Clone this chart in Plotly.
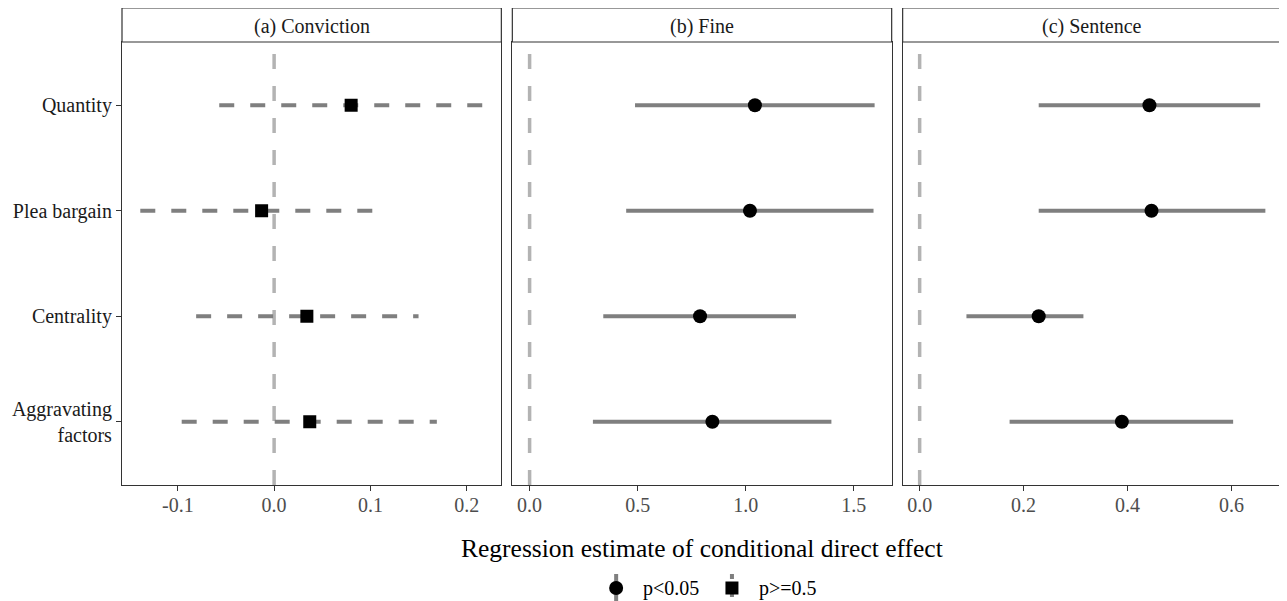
import plotly.graph_objects as go

# ---- data ----
categories = ["Quantity", "Plea bargain", "Centrality", "Aggravating<br>factors"]
panels = ["(a) Conviction", "(b) Fine", "(c) Sentence"]

conv_est = [0.080, -0.013, 0.034, 0.037]
conv_lo = [-0.057, -0.139, -0.081, -0.096]
conv_hi = [0.219, 0.103, 0.150, 0.169]

fine_est = [1.043, 1.020, 0.789, 0.846]
fine_lo = [0.488, 0.447, 0.341, 0.293]
fine_hi = [1.597, 1.592, 1.233, 1.397]

sent_est = [0.442, 0.446, 0.229, 0.389]
sent_lo = [0.229, 0.229, 0.090, 0.173]
sent_hi = [0.655, 0.665, 0.315, 0.603]

significant = [False, True, True]
x_ticks = [[-0.1, 0.0, 0.1, 0.2], [0.0, 0.5, 1.0, 1.5], [0.0, 0.2, 0.4, 0.6]]
x_ranges = [[-0.158, 0.236], [-0.080, 1.676], [-0.0327, 0.697]]

series = [(conv_est, conv_lo, conv_hi), (fine_est, fine_lo, fine_hi), (sent_est, sent_lo, sent_hi)]

FONT = "Liberation Serif, Times New Roman, serif"
GREY_BAR = "#7f7f7f"
GREY_ZERO = "#b3b3b3"
FRAME = "#333333"

# page has an 8px body margin: size the figure so it fills the window exactly
OFF = 8
W, H = 1287 - OFF, 601 - OFF
L, T = 121 - OFF, 42 - OFF
R = 4
B = H - (485 - OFF)
pw = W - L - R
ph = H - T - B
panel_px = [(121, 501), (512, 892), (903, 1283)]  # reference-pixel edges
domains = [[(a - 121) / pw, (b - 121) / pw] for a, b in panel_px]

ypos = list(range(1, len(categories) + 1))


def px_x(p):
    return (p - 121) / pw


def px_y(p):
    return (485 - p) / ph


fig = go.Figure()
shapes = []
annotations = []

for i, (est, lo, hi) in enumerate(series):
    xa = "x" if i == 0 else f"x{i+1}"
    ya = "y" if i == 0 else f"y{i+1}"
    sig = significant[i]
    shapes.append(dict(type="line", xref=xa, yref=f"{ya} domain", x0=0, x1=0, y0=0, y1=1,
                       line=dict(color=GREY_ZERO, width=3.5, dash="15px,17px"), layer="below"))
    lx, ly = [], []
    for j in range(len(categories)):
        lx += [lo[j], hi[j], None]
        ly += [ypos[j], ypos[j], None]
    fig.add_trace(go.Scatter(x=lx, y=ly, mode="lines", xaxis=xa, yaxis=ya, showlegend=False,
                             line=dict(color=GREY_BAR, width=4, dash="solid" if sig else "15px,16px"),
                             hoverinfo="skip"))
    fig.add_trace(go.Scatter(x=est, y=ypos, mode="markers", xaxis=xa, yaxis=ya, showlegend=False,
                             marker=dict(symbol="circle" if sig else "square", size=14 if sig else 13,
                                         color="black", line=dict(width=0))))
    d0, d1 = domains[i]
    shapes.append(dict(type="rect", xref="paper", yref="paper", x0=d0, x1=d1, y0=1, y1=1 + 34 / ph,
                       fillcolor="white", line=dict(color=FRAME, width=1.2)))
    annotations.append(dict(text=panels[i], xref="paper", yref="paper", x=(d0 + d1) / 2, y=1 + 16 / ph,
                            showarrow=False, xanchor="center", yanchor="middle",
                            font=dict(family=FONT, size=20, color="#1a1a1a")))

    axis_x = dict(domain=domains[i], range=x_ranges[i], tickvals=x_ticks[i],
                  ticktext=[f"{v:.1f}" for v in x_ticks[i]],
                  showgrid=False, zeroline=False, showline=True, mirror=True,
                  linecolor=FRAME, linewidth=1.2, ticks="outside", ticklen=5, tickcolor=FRAME,
                  ticklabelstandoff=-3,
                  tickfont=dict(family=FONT, size=20, color="#4d4d4d"), anchor=ya)
    axis_y = dict(range=[4.6, 0.4], tickvals=ypos, ticktext=categories if i == 0 else [""] * 4,
                  showticklabels=(i == 0),
                  showgrid=False, zeroline=False, showline=True, mirror=True,
                  linecolor=FRAME, linewidth=1.2, ticks="outside" if i == 0 else "", ticklen=5,
                  tickcolor=FRAME, tickfont=dict(family=FONT, size=20, color="#1a1a1a"), anchor=xa)
    fig.update_layout(**{("xaxis" if i == 0 else f"xaxis{i+1}"): axis_x,
                         ("yaxis" if i == 0 else f"yaxis{i+1}"): axis_y})

annotations.append(dict(text="Regression estimate of conditional direct effect", xref="paper", yref="paper",
                        x=(702 - 121) / pw, y=px_y(548), showarrow=False, xanchor="center", yanchor="middle",
                        font=dict(family=FONT, size=25.5, color="black")))

leg_items = [("p<0.05", "circle", 616, "solid"), ("p>=0.5", "square", 732, "5px,4px")]
for label, sym, cx, dash in leg_items:
    shapes.append(dict(type="line", xref="paper", yref="paper", x0=px_x(cx), x1=px_x(cx),
                       y0=px_y(574), y1=px_y(601), line=dict(color=GREY_BAR, width=4, dash=dash)))
    stype = "circle" if sym == "circle" else "rect"
    s = 7 if sym == "circle" else 6.5
    shapes.append(dict(type=stype, xref="paper", yref="paper", xsizemode="pixel", ysizemode="pixel",
                       xanchor=px_x(cx), yanchor=px_y(588), x0=-s, x1=s, y0=-s, y1=s,
                       fillcolor="black", line=dict(width=0)))
    annotations.append(dict(text=label, xref="paper", yref="paper", x=px_x(cx + 25), y=px_y(588),
                            showarrow=False, xanchor="left", yanchor="middle",
                            font=dict(family=FONT, size=20, color="black")))

fig.update_layout(width=W, height=H, margin=dict(l=L, r=R, t=T, b=B),
                  plot_bgcolor="white", paper_bgcolor="white",
                  shapes=shapes, annotations=annotations, showlegend=False)

fig.write_html("out.html")
